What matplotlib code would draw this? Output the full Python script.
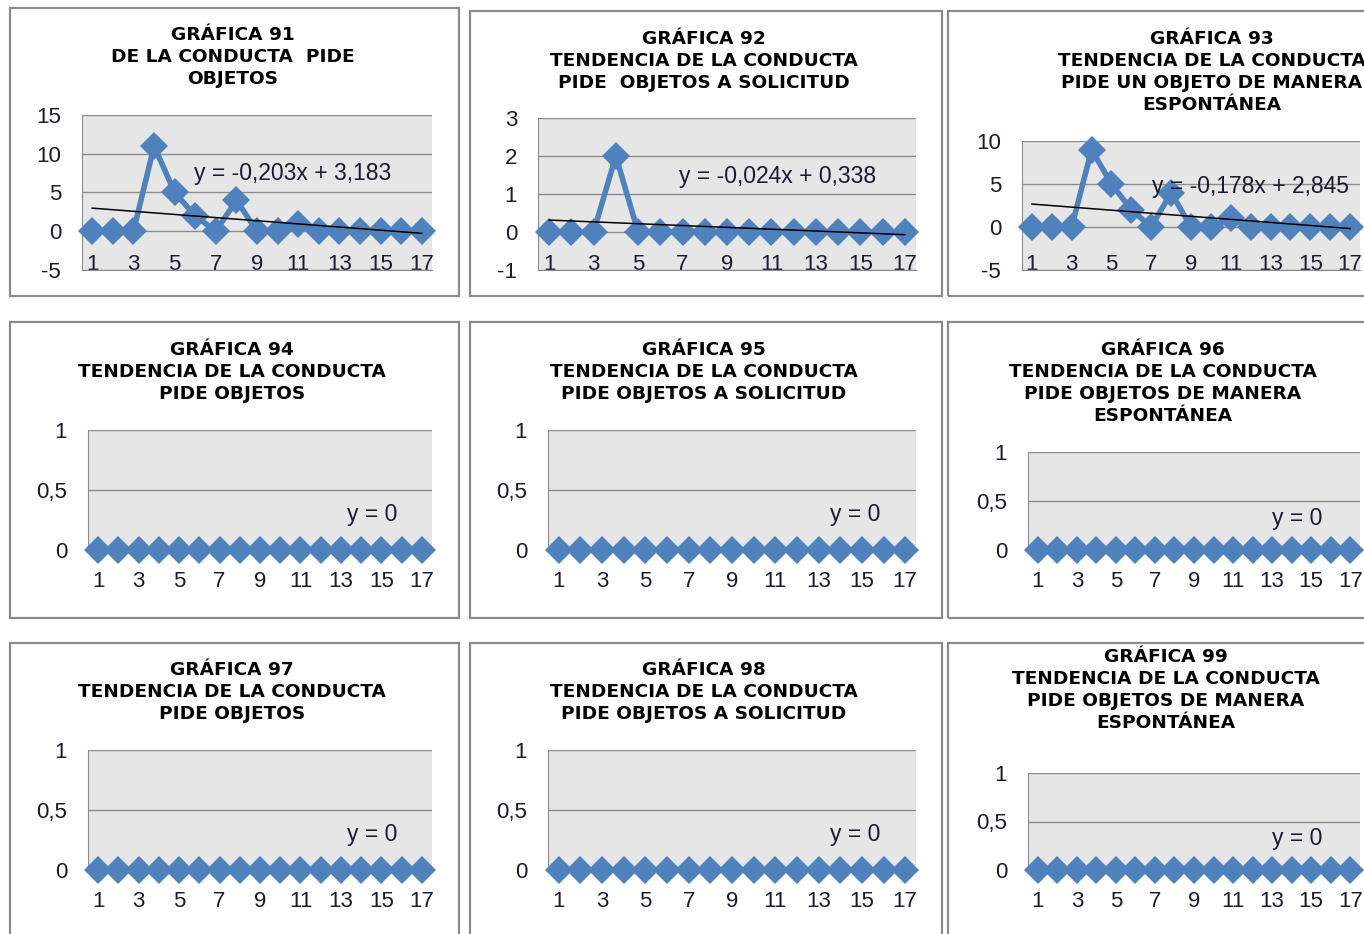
import numpy as np
import matplotlib.pyplot as plt
from matplotlib.patches import Rectangle

plt.rcParams['font.family'] = ['Liberation Sans', 'DejaVu Sans']

W, H = 1364, 934

sessions = np.arange(1, 18)

g91 = [0, 0, 0, 11, 5, 2, 0, 4, 0, 0, 1, 0, 0, 0, 0, 0, 0]
g92 = [0, 0, 0, 2, 0, 0, 0, 0, 0, 0, 0, 0, 0, 0, 0, 0, 0]
g93 = [0, 0, 0, 9, 5, 2, 0, 4, 0, 0, 1, 0, 0, 0, 0, 0, 0]
g94 = [0] * 17
g95 = [0] * 17
g96 = [0] * 17
g97 = [0] * 17
g98 = [0] * 17
g99 = [0] * 17
series = [g91, g92, g93, g94, g95, g96, g97, g98, g99]

# linear trend: slope, intercept
slopes = [-0.203, -0.024, -0.178, 0, 0, 0, 0, 0, 0]
intercepts = [3.183, 0.338, 2.845, 0, 0, 0, 0, 0, 0]
equations = ["y = -0,203x + 3,183", "y = -0,024x + 0,338", "y = -0,178x + 2,845",
             "y = 0", "y = 0", "y = 0", "y = 0", "y = 0", "y = 0"]

titles = [
    ["GRÁFICA 91", "DE LA CONDUCTA  PIDE", "OBJETOS"],
    ["GRÁFICA 92", "TENDENCIA DE LA CONDUCTA", "PIDE  OBJETOS A SOLICITUD"],
    ["GRÁFICA 93", "TENDENCIA DE LA CONDUCTA", "PIDE UN OBJETO DE MANERA", "ESPONTÁNEA"],
    ["GRÁFICA 94", "TENDENCIA DE LA CONDUCTA", "PIDE OBJETOS"],
    ["GRÁFICA 95", "TENDENCIA DE LA CONDUCTA", "PIDE OBJETOS A SOLICITUD"],
    ["GRÁFICA 96", "TENDENCIA DE LA CONDUCTA", "PIDE OBJETOS DE MANERA", "ESPONTÁNEA"],
    ["GRÁFICA 97", "TENDENCIA DE LA CONDUCTA", "PIDE OBJETOS"],
    ["GRÁFICA 98", "TENDENCIA DE LA CONDUCTA", "PIDE OBJETOS A SOLICITUD"],
    ["GRÁFICA 99", "TENDENCIA DE LA CONDUCTA", "PIDE OBJETOS DE MANERA", "ESPONTÁNEA"],
]

y_ticks = [[-5, 0, 5, 10, 15], [-1, 0, 1, 2, 3], [-5, 0, 5, 10]] + [[0, 0.5, 1]] * 6
y_labels = [["-5", "0", "5", "10", "15"], ["-1", "0", "1", "2", "3"],
            ["-5", "0", "5", "10"]] + [["0", "0,5", "1"]] * 6
x_ticks = list(range(1, 18, 2))

# pixel layout: outer box, plot area, first title line centre, equation centre
boxes = [(10, 8, 459, 296), (470, 11, 942, 296), (948, 11, 1372, 296),
         (10, 322, 459, 618), (470, 322, 942, 618), (948, 322, 1372, 618),
         (10, 643, 459, 944), (470, 643, 942, 944), (948, 643, 1372, 944)]
plots = [(82, 115, 432, 270), (538, 118, 916, 270), (1022, 141, 1360, 270),
         (88, 430, 432, 550), (548, 430, 916, 550), (1028, 452, 1360, 550),
         (88, 750, 432, 870), (548, 750, 916, 870), (1028, 773, 1360, 870)]
title_xy = [(233, 35), (704, 39), (1212, 39),
            (232, 350), (704, 350), (1163, 350),
            (232, 670), (704, 670), (1166, 657)]
eq_xy = [(293, 173), (778, 177), (1251, 187),
         (372, 514), (855, 514), (1297, 518),
         (372, 834), (855, 834), (1297, 838)]


def to_fig(x0, y0, x1, y1):
    return [x0 / W, 1 - y1 / H, (x1 - x0) / W, (y1 - y0) / H]


fig = plt.figure(figsize=(W / 100, H / 100), dpi=100)

line_color = "#4f81bd"
text_color = "#1a1a30"

for i in range(9):
    bx = to_fig(*boxes[i])
    fig.add_artist(Rectangle((bx[0], bx[1]), bx[2], bx[3], transform=fig.transFigure,
                             facecolor="none", edgecolor="#8a8a8a", linewidth=1.6,
                             zorder=-1))

    ax = fig.add_axes(to_fig(*plots[i]))
    ax.set_facecolor("#e6e6e6")
    ax.set_xlim(0.5, 17.5)
    ax.set_ylim(y_ticks[i][0], y_ticks[i][-1])

    ax.plot(sessions, series[i], color=line_color, linewidth=4, marker="D",
            markersize=14, markeredgewidth=0, clip_on=False, zorder=4)
    # a flat zero trend sits hidden under the diamonds, a sloped one on top
    trend = slopes[i] * sessions + intercepts[i]
    ax.plot(sessions, trend, color="black", linewidth=1.1,
            zorder=5 if slopes[i] != 0 else 3)

    ax.set_yticks(y_ticks[i])
    ax.set_yticklabels(y_labels[i])
    ax.set_xticks(x_ticks)
    ax.set_xticklabels([str(t) for t in x_ticks])
    ax.grid(axis="y", color="#8c8c8c", linewidth=1)
    ax.set_axisbelow(True)
    for side in ["top", "right"]:
        ax.spines[side].set_visible(False)
    for side in ["left", "bottom"]:
        ax.spines[side].set_color("#8c8c8c")
    inside = i < 3
    ax.tick_params(axis="y", length=0, pad=15, labelsize=16, labelcolor=text_color)
    ax.tick_params(axis="x", length=0, pad=-11.5 if inside else 15, labelsize=16,
                   labelcolor=text_color)

    tx, ty = title_xy[i]
    for k, line in enumerate(titles[i]):
        fig.text(tx / W, 1 - (ty + 22 * k) / H, line, ha="center", va="center",
                 fontsize=13.3, fontweight="bold", family="DejaVu Sans", color="black")

    ex, ey = eq_xy[i]
    fig.text(ex / W, 1 - ey / H, equations[i], ha="center", va="center",
             fontsize=16.5, color=text_color, zorder=5)

fig.savefig("out.png", dpi=100)
